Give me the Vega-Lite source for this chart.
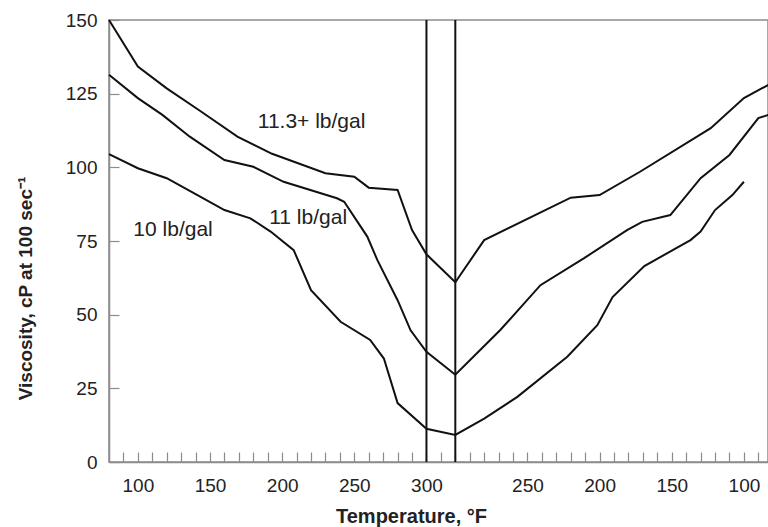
{
  "$schema": "https://vega.github.io/schema/vega-lite/v6.json",
  "width": 659,
  "height": 442,
  "autosize": {"type": "none"},
  "padding": {"left": 109, "top": 20, "right": 0, "bottom": 65},
  "background": "white",
  "config": {
    "view": {"stroke": "#8c8c8c", "strokeWidth": 1.5},
    "font": "Liberation Sans",
    "axis": {
      "labelOverlap": false,
      "labelFlush": false,
      "grid": false,
      "domainColor": "#8c8c8c",
      "domainWidth": 1.5,
      "tickColor": "#8c8c8c",
      "tickWidth": 1.2,
      "tickSize": -10,
      "labelFont": "Liberation Sans",
      "labelFontSize": 19,
      "labelColor": "#222222",
      "titleFont": "Liberation Sans",
      "titleFontWeight": "bold",
      "titleColor": "#222222",
      "titleBaseline": "middle"
    }
  },
  "datasets": {
    "curves": [
      {"series": "11.3+ lb/gal", "u": 80, "v": 150},
      {"series": "11.3+ lb/gal", "u": 100, "v": 134.2},
      {"series": "11.3+ lb/gal", "u": 120, "v": 126.8},
      {"series": "11.3+ lb/gal", "u": 143, "v": 119.2},
      {"series": "11.3+ lb/gal", "u": 169, "v": 110.4},
      {"series": "11.3+ lb/gal", "u": 193, "v": 104.6},
      {"series": "11.3+ lb/gal", "u": 230, "v": 98},
      {"series": "11.3+ lb/gal", "u": 250, "v": 96.8},
      {"series": "11.3+ lb/gal", "u": 260, "v": 93.1},
      {"series": "11.3+ lb/gal", "u": 280, "v": 92.3},
      {"series": "11.3+ lb/gal", "u": 290, "v": 78.7},
      {"series": "11.3+ lb/gal", "u": 300, "v": 70.5},
      {"series": "11.3+ lb/gal", "u": 320, "v": 61},
      {"series": "11.3+ lb/gal", "u": 340, "v": 75.3},
      {"series": "11.3+ lb/gal", "u": 400, "v": 89.7},
      {"series": "11.3+ lb/gal", "u": 420, "v": 90.6},
      {"series": "11.3+ lb/gal", "u": 448, "v": 98.5},
      {"series": "11.3+ lb/gal", "u": 497, "v": 113.3},
      {"series": "11.3+ lb/gal", "u": 520, "v": 123.5},
      {"series": "11.3+ lb/gal", "u": 537, "v": 128},
      {"series": "11 lb/gal", "u": 80, "v": 131.4},
      {"series": "11 lb/gal", "u": 100, "v": 123.5},
      {"series": "11 lb/gal", "u": 117, "v": 117.8},
      {"series": "11 lb/gal", "u": 136, "v": 110.4},
      {"series": "11 lb/gal", "u": 160, "v": 102.5},
      {"series": "11 lb/gal", "u": 180, "v": 100.2},
      {"series": "11 lb/gal", "u": 201, "v": 95.1},
      {"series": "11 lb/gal", "u": 238, "v": 89.5},
      {"series": "11 lb/gal", "u": 243, "v": 88.3},
      {"series": "11 lb/gal", "u": 259, "v": 76.5},
      {"series": "11 lb/gal", "u": 266, "v": 68.5},
      {"series": "11 lb/gal", "u": 280, "v": 54.9},
      {"series": "11 lb/gal", "u": 289, "v": 44.7},
      {"series": "11 lb/gal", "u": 300, "v": 37.4},
      {"series": "11 lb/gal", "u": 320, "v": 29.6},
      {"series": "11 lb/gal", "u": 351, "v": 44.7},
      {"series": "11 lb/gal", "u": 379, "v": 60},
      {"series": "11 lb/gal", "u": 409, "v": 69.1},
      {"series": "11 lb/gal", "u": 439, "v": 78.7},
      {"series": "11 lb/gal", "u": 449.5, "v": 81.5},
      {"series": "11 lb/gal", "u": 469, "v": 83.8},
      {"series": "11 lb/gal", "u": 490, "v": 96.3},
      {"series": "11 lb/gal", "u": 510, "v": 104.2},
      {"series": "11 lb/gal", "u": 530, "v": 116.7},
      {"series": "11 lb/gal", "u": 537, "v": 117.8},
      {"series": "10 lb/gal", "u": 80, "v": 104.5},
      {"series": "10 lb/gal", "u": 100, "v": 99.7},
      {"series": "10 lb/gal", "u": 120, "v": 96.3},
      {"series": "10 lb/gal", "u": 143.5, "v": 90},
      {"series": "10 lb/gal", "u": 160, "v": 85.5},
      {"series": "10 lb/gal", "u": 178, "v": 82.7},
      {"series": "10 lb/gal", "u": 192, "v": 78.2},
      {"series": "10 lb/gal", "u": 208, "v": 71.9},
      {"series": "10 lb/gal", "u": 220, "v": 58.3},
      {"series": "10 lb/gal", "u": 240.5, "v": 47.6},
      {"series": "10 lb/gal", "u": 261, "v": 41.4},
      {"series": "10 lb/gal", "u": 270.5, "v": 35.1},
      {"series": "10 lb/gal", "u": 280, "v": 20},
      {"series": "10 lb/gal", "u": 300, "v": 11.3},
      {"series": "10 lb/gal", "u": 320, "v": 9.2},
      {"series": "10 lb/gal", "u": 340, "v": 14.7},
      {"series": "10 lb/gal", "u": 363, "v": 22.1},
      {"series": "10 lb/gal", "u": 397.6, "v": 35.7},
      {"series": "10 lb/gal", "u": 418.4, "v": 46.4},
      {"series": "10 lb/gal", "u": 429, "v": 56},
      {"series": "10 lb/gal", "u": 451, "v": 66.5},
      {"series": "10 lb/gal", "u": 483, "v": 75.3},
      {"series": "10 lb/gal", "u": 490, "v": 78.2},
      {"series": "10 lb/gal", "u": 500, "v": 85.5},
      {"series": "10 lb/gal", "u": 512, "v": 90.6},
      {"series": "10 lb/gal", "u": 520, "v": 95.1}
    ],
    "holds": [
      {"u": 300},
      {"u": 320}
    ],
    "labels": [
      {"text": "11.3+ lb/gal", "u": 220.4, "v": 115.4},
      {"text": "11 lb/gal", "u": 218, "v": 82.7},
      {"text": "10 lb/gal", "u": 124.4, "v": 78.7}
    ]
  },
  "layer": [
    {
      "data": {"name": "curves"},
      "mark": {"type": "line", "color": "#111111", "strokeWidth": 2},
      "encoding": {
        "x": {
          "field": "u",
          "type": "quantitative",
          "scale": {"domain": [80, 536.7], "nice": false, "zero": false},
          "axis": {
            "title": "Temperature, °F",
            "values": [90, 100, 110, 120, 130, 140, 150, 160, 170, 180, 190, 200, 210, 220, 230, 240, 250, 260, 270, 280, 290, 300, 310, 320, 330, 340, 350, 360, 370, 380, 390, 400, 410, 420, 430, 440, 450, 460, 470, 480, 490, 500, 510, 520, 530],
            "labelExpr": "indexof([100,150,200,250,300,370,420,470,520], datum.value) >= 0 ? '' + (datum.value <= 300 ? datum.value : 620 - datum.value) : ''",
            "labelPadding": 24,
            "labelOverlap": false,
            "titleFontSize": 20,
            "titleX": 302,
            "titleY": 54
          }
        },
        "y": {
          "field": "v",
          "type": "quantitative",
          "scale": {"domain": [0, 150], "nice": false},
          "axis": {
            "title": "Viscosity, cP at 100 sec⁻¹",
            "values": [0, 25, 50, 75, 100, 125, 150],
            "labelPadding": 22,
            "labelOverlap": false,
            "titleFontSize": 19,
            "titleX": -84,
            "titleY": 268
          }
        },
        "detail": {"field": "series"}
      }
    },
    {
      "data": {"name": "holds"},
      "mark": {"type": "rule", "color": "#111111", "strokeWidth": 2},
      "encoding": {
        "x": {
          "field": "u",
          "type": "quantitative",
          "axis": {
            "title": "Temperature, °F",
            "values": [90, 100, 110, 120, 130, 140, 150, 160, 170, 180, 190, 200, 210, 220, 230, 240, 250, 260, 270, 280, 290, 300, 310, 320, 330, 340, 350, 360, 370, 380, 390, 400, 410, 420, 430, 440, 450, 460, 470, 480, 490, 500, 510, 520, 530],
            "labelExpr": "indexof([100,150,200,250,300,370,420,470,520], datum.value) >= 0 ? '' + (datum.value <= 300 ? datum.value : 620 - datum.value) : ''",
            "labelPadding": 24,
            "labelOverlap": false,
            "titleFontSize": 20,
            "titleX": 302,
            "titleY": 54
          }
        }
      }
    },
    {
      "data": {"name": "labels"},
      "mark": {"type": "text", "font": "Liberation Sans", "fontSize": 21, "color": "#222222", "align": "center", "baseline": "middle"},
      "encoding": {
        "x": {
          "field": "u",
          "type": "quantitative",
          "axis": {
            "title": "Temperature, °F",
            "values": [90, 100, 110, 120, 130, 140, 150, 160, 170, 180, 190, 200, 210, 220, 230, 240, 250, 260, 270, 280, 290, 300, 310, 320, 330, 340, 350, 360, 370, 380, 390, 400, 410, 420, 430, 440, 450, 460, 470, 480, 490, 500, 510, 520, 530],
            "labelExpr": "indexof([100,150,200,250,300,370,420,470,520], datum.value) >= 0 ? '' + (datum.value <= 300 ? datum.value : 620 - datum.value) : ''",
            "labelPadding": 24,
            "labelOverlap": false,
            "titleFontSize": 20,
            "titleX": 302,
            "titleY": 54
          }
        },
        "y": {
          "field": "v",
          "type": "quantitative",
          "axis": {
            "title": "Viscosity, cP at 100 sec⁻¹",
            "values": [0, 25, 50, 75, 100, 125, 150],
            "labelPadding": 22,
            "labelOverlap": false,
            "titleFontSize": 19,
            "titleX": -84,
            "titleY": 268
          }
        },
        "text": {"field": "text"}
      }
    }
  ]
}
